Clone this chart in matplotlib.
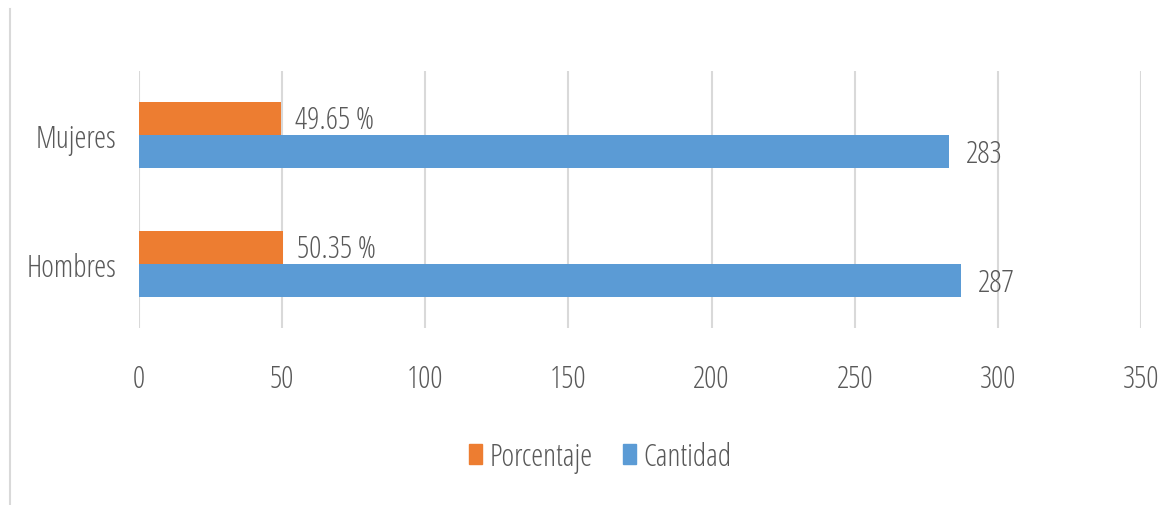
import matplotlib
matplotlib.use("Agg")
import matplotlib.pyplot as plt
from matplotlib.lines import Line2D
from matplotlib.patches import Patch

categories = ["Hombres", "Mujeres"]
porcentaje = [50.35, 49.65]
cantidad = [287, 283]
porcentaje_labels = ["50.35 %", "49.65 %"]
cantidad_labels = ["287", "283"]
x_ticks = [0, 50, 100, 150, 200, 250, 300, 350]

ORANGE = "#ED7D31"
BLUE = "#5B9BD5"
GRID = "#D9D9D9"
TEXT = "#595959"

plt.rcParams['font.family'] = ['Open Sans', 'DejaVu Sans']
plt.rcParams['font.stretch'] = 'condensed'
plt.rcParams['font.weight'] = 'light'

fig = plt.figure(figsize=(11.74, 5.06), dpi=100)
ax = fig.add_axes([0.1184, 0.3498, 0.8535, 0.5079])

h = 0.256
ypos = list(range(len(categories)))
ax.barh([y + h / 2 for y in ypos], porcentaje, height=h, color=ORANGE, label="Porcentaje", zorder=3)
ax.barh([y - h / 2 for y in ypos], cantidad, height=h, color=BLUE, label="Cantidad", zorder=3)

fs = 22
for y, v, lab in zip(ypos, porcentaje, porcentaje_labels):
    ax.text(v + 5, y + h / 2 - 0.01, lab, va="center", ha="left", fontsize=fs, color=TEXT)
for y, v, lab in zip(ypos, cantidad, cantidad_labels):
    ax.text(v + 6, y - h / 2 - 0.02, lab, va="center", ha="left", fontsize=fs, color=TEXT)

ax.set_xlim(0, 350)
ax.set_ylim(-0.5, 1.5)
ax.set_xticks(x_ticks)
ax.set_yticks(ypos)
ax.set_yticklabels(categories)
ax.tick_params(axis="both", length=0, labelsize=fs, labelcolor=TEXT)
ax.tick_params(axis="x", pad=25)
ax.tick_params(axis="y", pad=16)
ax.grid(axis="x", color=GRID, linewidth=1.5, zorder=0)
for s in ax.spines.values():
    s.set_visible(False)

handles = [Patch(color=ORANGE, label="Porcentaje"), Patch(color=BLUE, label="Cantidad")]
fig.legend(handles=handles, loc="center", bbox_to_anchor=(0.5115, 0.095), ncol=2, frameon=False,
           fontsize=fs, labelcolor=TEXT, handlelength=0.42, handleheight=0.6,
           handletextpad=0.25, columnspacing=1.0)

# outer frame line at the left edge
fig.add_artist(Line2D([10 / 1174, 10 / 1174], [0, 1 - 10 / 506], color=GRID, linewidth=1.5))

fig.savefig("out.png", dpi=100)
